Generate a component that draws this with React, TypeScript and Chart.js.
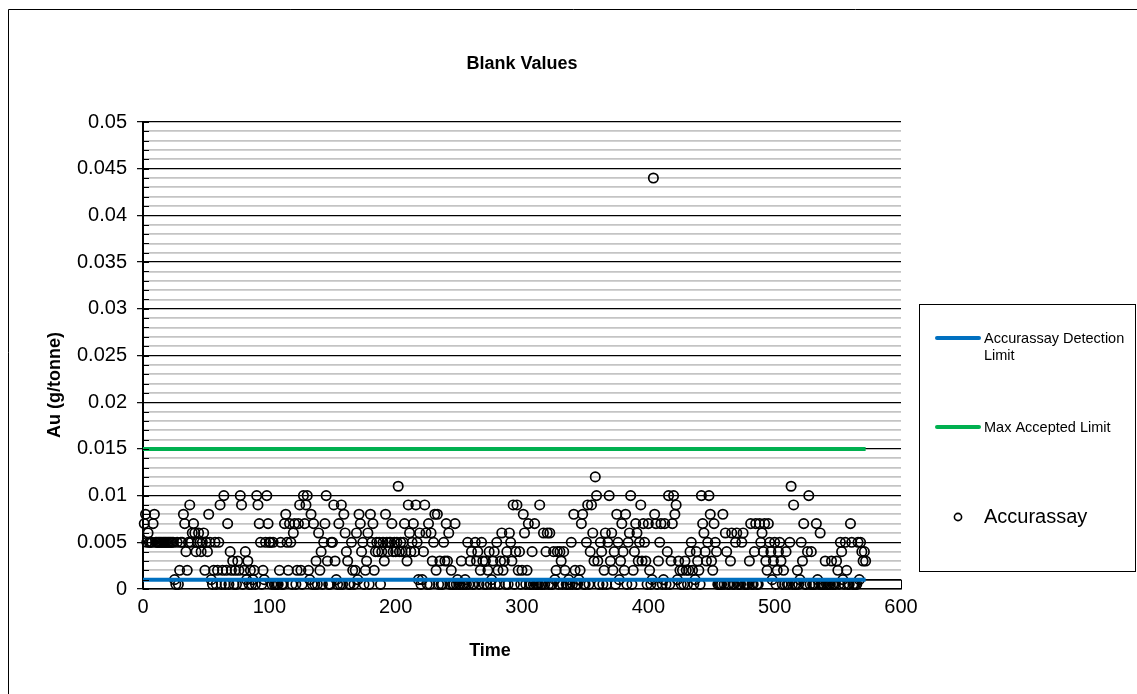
import { useEffect, useRef } from "react";
import { Chart, registerables } from "chart.js";

Chart.register(...registerables);

const FONT = '"Liberation Sans", Arial, sans-serif';

const chartTitle = "Blank Values";
const xAxisTitle = "Time";
const yAxisTitle = "Au (g/tonne)";
const xTickLabels = ["0", "100", "200", "300", "400", "500", "600"];
const yTickLabels = ["0", "0.005", "0.01", "0.015", "0.02", "0.025", "0.03", "0.035", "0.04", "0.045", "0.05"];
const seriesNames = ["Accurassay Detection Limit", "Max Accepted Limit", "Accurassay"];

// Au (g/tonne) per blank sample, samples 1..572 in time order
const auSamples001to096 = [
  0.007, 0.008, 0.005, 0.006, 0.005, 0.005, 0.005, 0.007, 0.008, 0.005,
  0.005, 0.005, 0.005, 0.005, 0.005, 0.005, 0.005, 0.005, 0.005, 0.005,
  0.005, 0.005, 0.005, 0.005, 0.001, 0.0005, 0.005, 0.0005, 0.002, 0.005,
  0.005, 0.008, 0.007, 0.004, 0.002, 0.005, 0.009, 0.005, 0.006, 0.007,
  0.006, 0.004, 0.005, 0.006, 0.005, 0.004, 0.005, 0.006, 0.002, 0.005,
  0.004, 0.008, 0.005, 0.001, 0.0005, 0.002, 0.005, 0.0005, 0.002, 0.005,
  0.009, 0.0005, 0.002, 0.01, 0.0005, 0.002, 0.007, 0.0005, 0.004, 0.002,
  0.003, 0.0005, 0.002, 0.0005, 0.003, 0.002, 0.01, 0.009, 0.0005, 0.002,
  0.004, 0.001, 0.003, 0.0005, 0.002, 0.0005, 0.001, 0.002, 0.0005, 0.01,
  0.009, 0.007, 0.005, 0.0005, 0.002, 0.001,
];
const auSamples097to195 = [
  0.005, 0.01, 0.007, 0.005, 0.005, 0.0005, 0.005, 0.0005, 0.0005, 0.0005,
  0.0005, 0.002, 0.005, 0.0005, 0.0005, 0.007, 0.008, 0.005, 0.002, 0.007,
  0.005, 0.0005, 0.006, 0.007, 0.0005, 0.002, 0.007, 0.009, 0.002, 0.0005,
  0.01, 0.007, 0.009, 0.01, 0.002, 0.001, 0.008, 0.0005, 0.007, 0.0005,
  0.003, 0.0005, 0.006, 0.002, 0.004, 0.0005, 0.005, 0.007, 0.01, 0.003,
  0.0005, 0.0005, 0.005, 0.005, 0.009, 0.003, 0.001, 0.0005, 0.007, 0.0005,
  0.009, 0.0005, 0.008, 0.006, 0.004, 0.003, 0.0005, 0.0005, 0.005, 0.002,
  0.0005, 0.002, 0.006, 0.001, 0.008, 0.007, 0.004, 0.005, 0.0005, 0.002,
  0.003, 0.006, 0.0005, 0.008, 0.005, 0.007, 0.002, 0.004, 0.005, 0.004,
  0.005, 0.0005, 0.004, 0.005, 0.003, 0.008, 0.005, 0.004, 0.005,
];
const auSamples196to294 = [
  0.005, 0.007, 0.004, 0.005, 0.004, 0.005, 0.011, 0.004, 0.005, 0.004,
  0.005, 0.007, 0.004, 0.003, 0.009, 0.006, 0.004, 0.005, 0.007, 0.004,
  0.009, 0.005, 0.001, 0.006, 0.0005, 0.001, 0.004, 0.009, 0.006, 0.0005,
  0.007, 0.0005, 0.006, 0.003, 0.005, 0.008, 0.002, 0.008, 0.0005, 0.003,
  0.0005, 0.0005, 0.005, 0.003, 0.007, 0.003, 0.006, 0.0005, 0.002, 0.0005,
  0.0005, 0.007, 0.0005, 0.001, 0.0005, 0.0005, 0.003, 0.0005, 0.0005, 0.001,
  0.0005, 0.005, 0.0005, 0.003, 0.004, 0.0005, 0.0005, 0.005, 0.003, 0.004,
  0.0005, 0.002, 0.005, 0.003, 0.0005, 0.003, 0.0005, 0.002, 0.004, 0.0005,
  0.001, 0.003, 0.004, 0.0005, 0.005, 0.002, 0.0005, 0.003, 0.006, 0.002,
  0.003, 0.0005, 0.004, 0.0005, 0.006, 0.005, 0.003, 0.009, 0.0005,
];
const auSamples295to392 = [
  0.004, 0.009, 0.002, 0.004, 0.0005, 0.002, 0.008, 0.006, 0.0005, 0.002,
  0.007, 0.0005, 0.0005, 0.004, 0.0005, 0.007, 0.0005, 0.0005, 0.0005, 0.009,
  0.0005, 0.0005, 0.006, 0.0005, 0.004, 0.006, 0.0005, 0.006, 0.0005, 0.0005,
  0.004, 0.001, 0.002, 0.004, 0.0005, 0.004, 0.003, 0.0005, 0.004, 0.002,
  0.0005, 0.0005, 0.001, 0.0005, 0.005, 0.0005, 0.008, 0.002, 0.0005, 0.0005,
  0.001, 0.002, 0.007, 0.008, 0.0005, 0.0005, 0.005, 0.009, 0.0005, 0.004,
  0.009, 0.006, 0.003, 0.012, 0.01, 0.003, 0.0005, 0.005, 0.004, 0.0005,
  0.002, 0.006, 0.0005, 0.005, 0.01, 0.003, 0.006, 0.002, 0.004, 0.0005,
  0.008, 0.005, 0.001, 0.003, 0.007, 0.004, 0.002, 0.008, 0.0005, 0.005,
  0.006, 0.01, 0.0005, 0.002, 0.004, 0.007, 0.006, 0.003,
];
const auSamples393to490 = [
  0.005, 0.009, 0.003, 0.007, 0.005, 0.003, 0.0005, 0.007, 0.002, 0.0005,
  0.001, 0.044, 0.008, 0.007, 0.0005, 0.003, 0.005, 0.007, 0.0005, 0.001,
  0.007, 0.0005, 0.004, 0.01, 0.0005, 0.003, 0.007, 0.01, 0.008, 0.009,
  0.001, 0.003, 0.002, 0.0005, 0.002, 0.0005, 0.003, 0.002, 0.0005, 0.002,
  0.004, 0.005, 0.002, 0.0005, 0.001, 0.004, 0.003, 0.002, 0.0005, 0.01,
  0.007, 0.006, 0.004, 0.003, 0.005, 0.01, 0.008, 0.003, 0.002, 0.007,
  0.005, 0.004, 0.0005, 0.0005, 0.0005, 0.0005, 0.008, 0.0005, 0.006, 0.004,
  0.0005, 0.0005, 0.003, 0.006, 0.0005, 0.0005, 0.005, 0.006, 0.0005, 0.0005,
  0.0005, 0.005, 0.006, 0.0005, 0.0005, 0.0005, 0.0005, 0.003, 0.007, 0.0005,
  0.0005, 0.004, 0.007, 0.0005, 0.0005, 0.007, 0.005, 0.006,
];
const auSamples491to572 = [
  0.004, 0.007, 0.003, 0.002, 0.007, 0.005, 0.004, 0.001, 0.003, 0.005,
  0.0005, 0.002, 0.004, 0.005, 0.003, 0.0005, 0.002, 0.0005, 0.004, 0.0005,
  0.0005, 0.005, 0.011, 0.0005, 0.009, 0.0005, 0.0005, 0.002, 0.0005, 0.001,
  0.005, 0.003, 0.007, 0.0005, 0.0005, 0.004, 0.01, 0.0005, 0.004, 0.0005,
  0.0005, 0.0005, 0.007, 0.001, 0.0005, 0.006, 0.0005, 0.0005, 0.0005, 0.003,
  0.0005, 0.0005, 0.0005, 0.0005, 0.003, 0.0005, 0.0005, 0.0005, 0.003, 0.002,
  0.0005, 0.005, 0.004, 0.001, 0.0005, 0.005, 0.002, 0.0005, 0.0005, 0.007,
  0.005, 0.0005, 0.0005, 0.0005, 0.0005, 0.005, 0.001, 0.005, 0.004, 0.003,
  0.004, 0.003,
];

const limitTimes = [0, 572];
const detectionLimit = [0.001, 0.001];
const maxAcceptedLimit = [0.015, 0.015];

const isMajor = (v: number) => Math.round(v * 1000) % 5 === 0;

const decorPlugin = {
  id: "decor",
  beforeDraw(chart: any) {
    const ctx = chart.ctx;
    ctx.save();
    ctx.fillStyle = "#ffffff";
    ctx.fillRect(0, 0, chart.width, chart.height);
    ctx.strokeStyle = "#000";
    ctx.lineWidth = 1;
    ctx.beginPath();
    ctx.moveTo(8.5, chart.height + 2);
    ctx.lineTo(8.5, 9.5);
    ctx.lineTo(chart.width + 2, 9.5);
    ctx.stroke();
    ctx.restore();
  },
  afterDraw(chart: any) {
    const ctx = chart.ctx;
    const xs = chart.scales.x;
    const ys = chart.scales.y;
    ctx.save();
    // inner minor tick marks on the value axis
    ctx.strokeStyle = "#000";
    ctx.lineWidth = 1;
    ctx.beginPath();
    for (const t of ys.ticks) {
      const py = Math.round(ys.getPixelForValue(t.value)) + 0.5;
      ctx.moveTo(xs.left, py);
      ctx.lineTo(xs.left + 6, py);
    }
    ctx.stroke();
    // small closing segment at the right end between 0 and 0.001
    const rx = Math.round(xs.getPixelForValue(600)) + 0.5;
    ctx.beginPath();
    ctx.moveTo(rx, ys.getPixelForValue(0));
    ctx.lineTo(rx, ys.getPixelForValue(0.001));
    ctx.stroke();

    // titles
    ctx.fillStyle = "#000";
    ctx.textAlign = "center";
    ctx.textBaseline = "middle";
    ctx.font = `bold 18px ${FONT}`;
    ctx.fillText(chartTitle, 522, 64);
    ctx.fillText(xAxisTitle, 490, 651);
    ctx.save();
    ctx.translate(55, 385);
    ctx.rotate(-Math.PI / 2);
    ctx.fillText(yAxisTitle, 0, 0);
    ctx.restore();

    // legend
    ctx.strokeStyle = "#000";
    ctx.lineWidth = 1;
    ctx.strokeRect(919.5, 304.5, 216, 267);
    ctx.lineCap = "round";
    ctx.lineWidth = 4;
    ctx.strokeStyle = "#0070C0";
    ctx.beginPath();
    ctx.moveTo(937, 338);
    ctx.lineTo(979, 338);
    ctx.stroke();
    ctx.strokeStyle = "#00B050";
    ctx.beginPath();
    ctx.moveTo(937, 427);
    ctx.lineTo(979, 427);
    ctx.stroke();
    ctx.lineCap = "butt";
    ctx.strokeStyle = "#000";
    ctx.lineWidth = 1.6;
    ctx.beginPath();
    ctx.arc(958, 517, 3.6, 0, Math.PI * 2);
    ctx.stroke();
    ctx.textAlign = "left";
    ctx.font = `14.5px ${FONT}`;
    const words = seriesNames[0].split(" ");
    ctx.fillText(words.slice(0, 2).join(" "), 984, 339);
    ctx.fillText(words.slice(2).join(" "), 984, 356);
    ctx.fillText(seriesNames[1], 984, 428);
    ctx.font = `20px ${FONT}`;
    ctx.fillText(seriesNames[2], 984, 517);
    ctx.restore();
  },
};

export default function App() {
  const canvasRef = useRef<HTMLCanvasElement | null>(null);

  useEffect(() => {
    const canvas = canvasRef.current;
    if (!canvas) return;
    const auSamples = [
      ...auSamples001to096,
      ...auSamples097to195,
      ...auSamples196to294,
      ...auSamples295to392,
      ...auSamples393to490,
      ...auSamples491to572,
    ];
    const chart = new Chart(canvas, {
      type: "scatter",
      data: {
        datasets: [
          {
            label: seriesNames[0],
            data: limitTimes.map((t, i) => ({ x: t, y: detectionLimit[i] })),
            showLine: true,
            borderColor: "#0070C0",
            borderWidth: 4,
            pointRadius: 0,
            fill: false,
          },
          {
            label: seriesNames[1],
            data: limitTimes.map((t, i) => ({ x: t, y: maxAcceptedLimit[i] })),
            showLine: true,
            borderColor: "#00B050",
            borderWidth: 4,
            pointRadius: 0,
            fill: false,
          },
          {
            label: seriesNames[2],
            data: auSamples.map((v, i) => ({ x: i + 1, y: v })),
            pointStyle: "circle",
            pointRadius: 4.7,
            pointBorderWidth: 1.7,
            borderColor: "#000",
            backgroundColor: "rgba(0,0,0,0)",
            pointBackgroundColor: "rgba(0,0,0,0)",
            pointBorderColor: "#000",
            showLine: false,
            clip: false,
          } as any,
        ],
      },
      options: {
        responsive: false,
        animation: false,
        events: [],
        layout: { padding: { left: 0, top: 122, right: 236, bottom: 0 } },
        plugins: {
          legend: { display: false },
          title: { display: false },
          tooltip: { enabled: false },
        },
        scales: {
          x: {
            type: "linear",
            min: 0,
            max: 600,
            afterFit: (s: any) => {
              s.height = 105;
            },
            ticks: {
              stepSize: 100,
              autoSkip: false,
              maxRotation: 0,
              padding: 6,
              color: "#000",
              font: { family: FONT, size: 20 },
              callback: (v: any) => xTickLabels[Math.round(Number(v) / 100)] ?? "",
            },
            grid: { display: false, drawTicks: false },
            border: { display: true, color: "#000", width: 1.5 },
          },
          y: {
            type: "linear",
            min: 0,
            max: 0.05,
            afterFit: (s: any) => {
              s.width = 143;
            },
            ticks: {
              stepSize: 0.001,
              autoSkip: false,
              padding: 10,
              color: "#000",
              font: { family: FONT, size: 20 },
              callback: (v: any) => {
                const i = Math.round(Number(v) * 1000);
                return i % 5 === 0 ? yTickLabels[i / 5] : "";
              },
            },
            grid: {
              color: (c: any) => {
                const v = c.tick ? c.tick.value : 0;
                if (isMajor(v) || Math.round(v * 1000) === 1) return "#000";
                return "#c4c4c4";
              },
              lineWidth: (c: any) => {
                const v = c.tick ? c.tick.value : 0;
                return isMajor(v) ? 1.3 : 1.8;
              },
              tickColor: (c: any) => {
                const v = c.tick ? c.tick.value : 0;
                return isMajor(v) ? "#000" : "rgba(0,0,0,0)";
              },
              tickLength: 6,
              tickWidth: 1.2,
            },
            border: { display: true, color: "#000", width: 2 },
          },
        },
      } as any,
      plugins: [decorPlugin],
    });
    return () => chart.destroy();
  }, []);

  return (
    <div style={{ position: "fixed", left: 0, top: 0, width: 1137, height: 694, background: "#fff" }}>
      <canvas ref={canvasRef} width={1137} height={694} style={{ display: "block" }} />
    </div>
  );
}
